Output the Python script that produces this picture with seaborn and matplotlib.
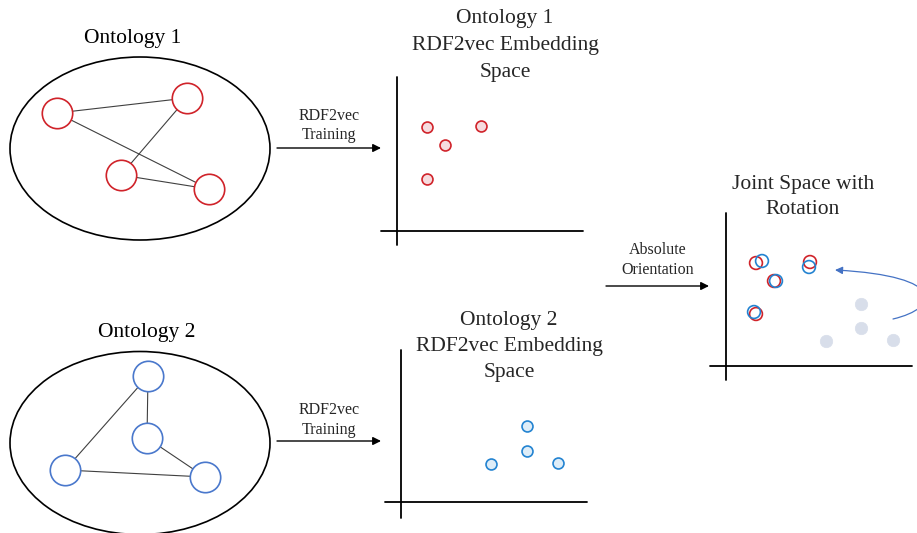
import matplotlib
matplotlib.use("Agg")
import matplotlib.pyplot as plt
import seaborn as sns
import pandas as pd
from matplotlib.patches import Ellipse, FancyArrowPatch
from matplotlib.path import Path

sns.set_theme(style="white")
plt.rcParams['font.family'] = ['Liberation Serif', 'DejaVu Serif']

# ---------------- data (pixel-space layout of the diagram) ----------------
onto1_x = [57, 187, 121, 209]
onto1_y = [113, 98, 175, 189]
onto1_edges = [(0, 1), (0, 3), (1, 2), (2, 3)]

onto2_x = [148, 147, 65, 205]
onto2_y = [376, 438, 470, 477]
onto2_edges = [(0, 2), (0, 1), (1, 3), (2, 3)]

emb1_x = [427, 445, 481, 427]
emb1_y = [127, 145, 126, 179]

emb2_x = [527, 527, 491, 558]
emb2_y = [426, 451, 464, 463]

joint_red_x = [756, 774, 810, 756]
joint_red_y = [263, 281, 262, 314]
joint_blue_x = [762, 776, 809, 754]
joint_blue_y = [261, 281, 267, 312]
joint_gray_x = [861, 861, 826, 893]
joint_gray_y = [304, 328, 341, 340]

RED = "#d0232a"
BLUE_NODE = "#4a78cc"
BLUE = "#2383d1"
W, H = 917, 533

fig = plt.figure(figsize=(W / 100, H / 100), dpi=100)
ax = fig.add_axes([0, 0, 1, 1])
ax.set_xlim(0, W)
ax.set_ylim(H, 0)
ax.axis("off")

# ---------------- ontology ellipses ----------------
ax.add_patch(Ellipse((140, 148.5), 260, 183, fill=False, ec="black", lw=1.2, zorder=1))
ax.add_patch(Ellipse((140, 443), 260, 183, fill=False, ec="black", lw=1.2, zorder=1))

for (xs, ys, edges) in [(onto1_x, onto1_y, onto1_edges), (onto2_x, onto2_y, onto2_edges)]:
    for a, b in edges:
        ax.plot([xs[a], xs[b]], [ys[a], ys[b]], color="#404040", lw=0.8, zorder=2)

sns.scatterplot(x=onto1_x, y=onto1_y, ax=ax, s=480, marker="o",
                facecolor="white", edgecolor=RED, linewidth=1.2, zorder=3, legend=False)
sns.scatterplot(x=onto2_x, y=onto2_y, ax=ax, s=480, marker="o",
                facecolor="white", edgecolor=BLUE_NODE, linewidth=1.2, zorder=3, legend=False)

ax.text(133, 38, "Ontology 1", ha="center", va="center", fontsize=15.5, color="black")
ax.text(147, 332, "Ontology 2", ha="center", va="center", fontsize=15.5, color="black")

# ---------------- embedding spaces axes ----------------
def draw_axes(x0, ytop, ybot, y0, xl, xr):
    ax.plot([x0, x0], [ytop, ybot], color="black", lw=1.3, zorder=2)
    ax.plot([xl, xr], [y0, y0], color="black", lw=1.3, zorder=2)

draw_axes(397, 77, 245, 231, 381, 583)
draw_axes(401, 350, 518, 502, 385, 587)
draw_axes(726, 213, 380, 366, 710, 912)

for i, t in enumerate(["Ontology 1", "RDF2vec Embedding", "Space"]):
    ax.text(505, 19 + 26.5 * i, t, ha="center", va="center", fontsize=15.5)
for i, t in enumerate(["Ontology 2", "RDF2vec Embedding", "Space"]):
    ax.text(509, 320 + 26.5 * i, t, ha="center", va="center", fontsize=15.5)
for i, t in enumerate(["Joint Space with", "Rotation"]):
    ax.text(803, 184 + 26 * i, t, ha="center", va="center", fontsize=15.5)

sns.scatterplot(x=emb1_x, y=emb1_y, ax=ax, s=62, facecolor="#f6dcdf",
                edgecolor=RED, linewidth=1.2, zorder=3, legend=False)
sns.scatterplot(x=emb2_x, y=emb2_y, ax=ax, s=62, facecolor="#deedf8",
                edgecolor=BLUE, linewidth=1.2, zorder=3, legend=False)

sns.scatterplot(x=joint_gray_x, y=joint_gray_y, ax=ax, s=80, facecolor="#d8deea",
                edgecolor="#d8deea", linewidth=0.5, zorder=3, legend=False)
sns.scatterplot(x=joint_red_x, y=joint_red_y, ax=ax, s=85, facecolor="none",
                edgecolor=RED, linewidth=1.2, zorder=4, legend=False)
sns.scatterplot(x=joint_blue_x, y=joint_blue_y, ax=ax, s=85, facecolor="none",
                edgecolor=BLUE, linewidth=1.2, zorder=5, legend=False)

# ---------------- arrows ----------------
def straight_arrow(x1, x2, y):
    ax.annotate("", xy=(x2, y), xytext=(x1, y),
                arrowprops=dict(arrowstyle="-|>", color="black", lw=1.0,
                                mutation_scale=12, shrinkA=0, shrinkB=0))

straight_arrow(277, 381, 148)
ax.text(329, 116, "RDF2vec", ha="center", va="center", fontsize=11.5)
ax.text(329, 135, "Training", ha="center", va="center", fontsize=11.5)

straight_arrow(277, 381, 441)
ax.text(329, 410, "RDF2vec", ha="center", va="center", fontsize=11.5)
ax.text(329, 430, "Training", ha="center", va="center", fontsize=11.5)

straight_arrow(606, 709, 286)
ax.text(658, 250, "Absolute", ha="center", va="center", fontsize=11.5)
ax.text(658, 270, "Orientation", ha="center", va="center", fontsize=11.5)

curve = Path([(893, 319), (940, 308), (948, 276), (835, 270)],
             [Path.MOVETO, Path.CURVE4, Path.CURVE4, Path.CURVE4])
ax.add_patch(FancyArrowPatch(path=curve, arrowstyle="-|>", color="#4472c4",
                             lw=0.9, mutation_scale=11, zorder=2))

fig.savefig("out.png", dpi=100)
